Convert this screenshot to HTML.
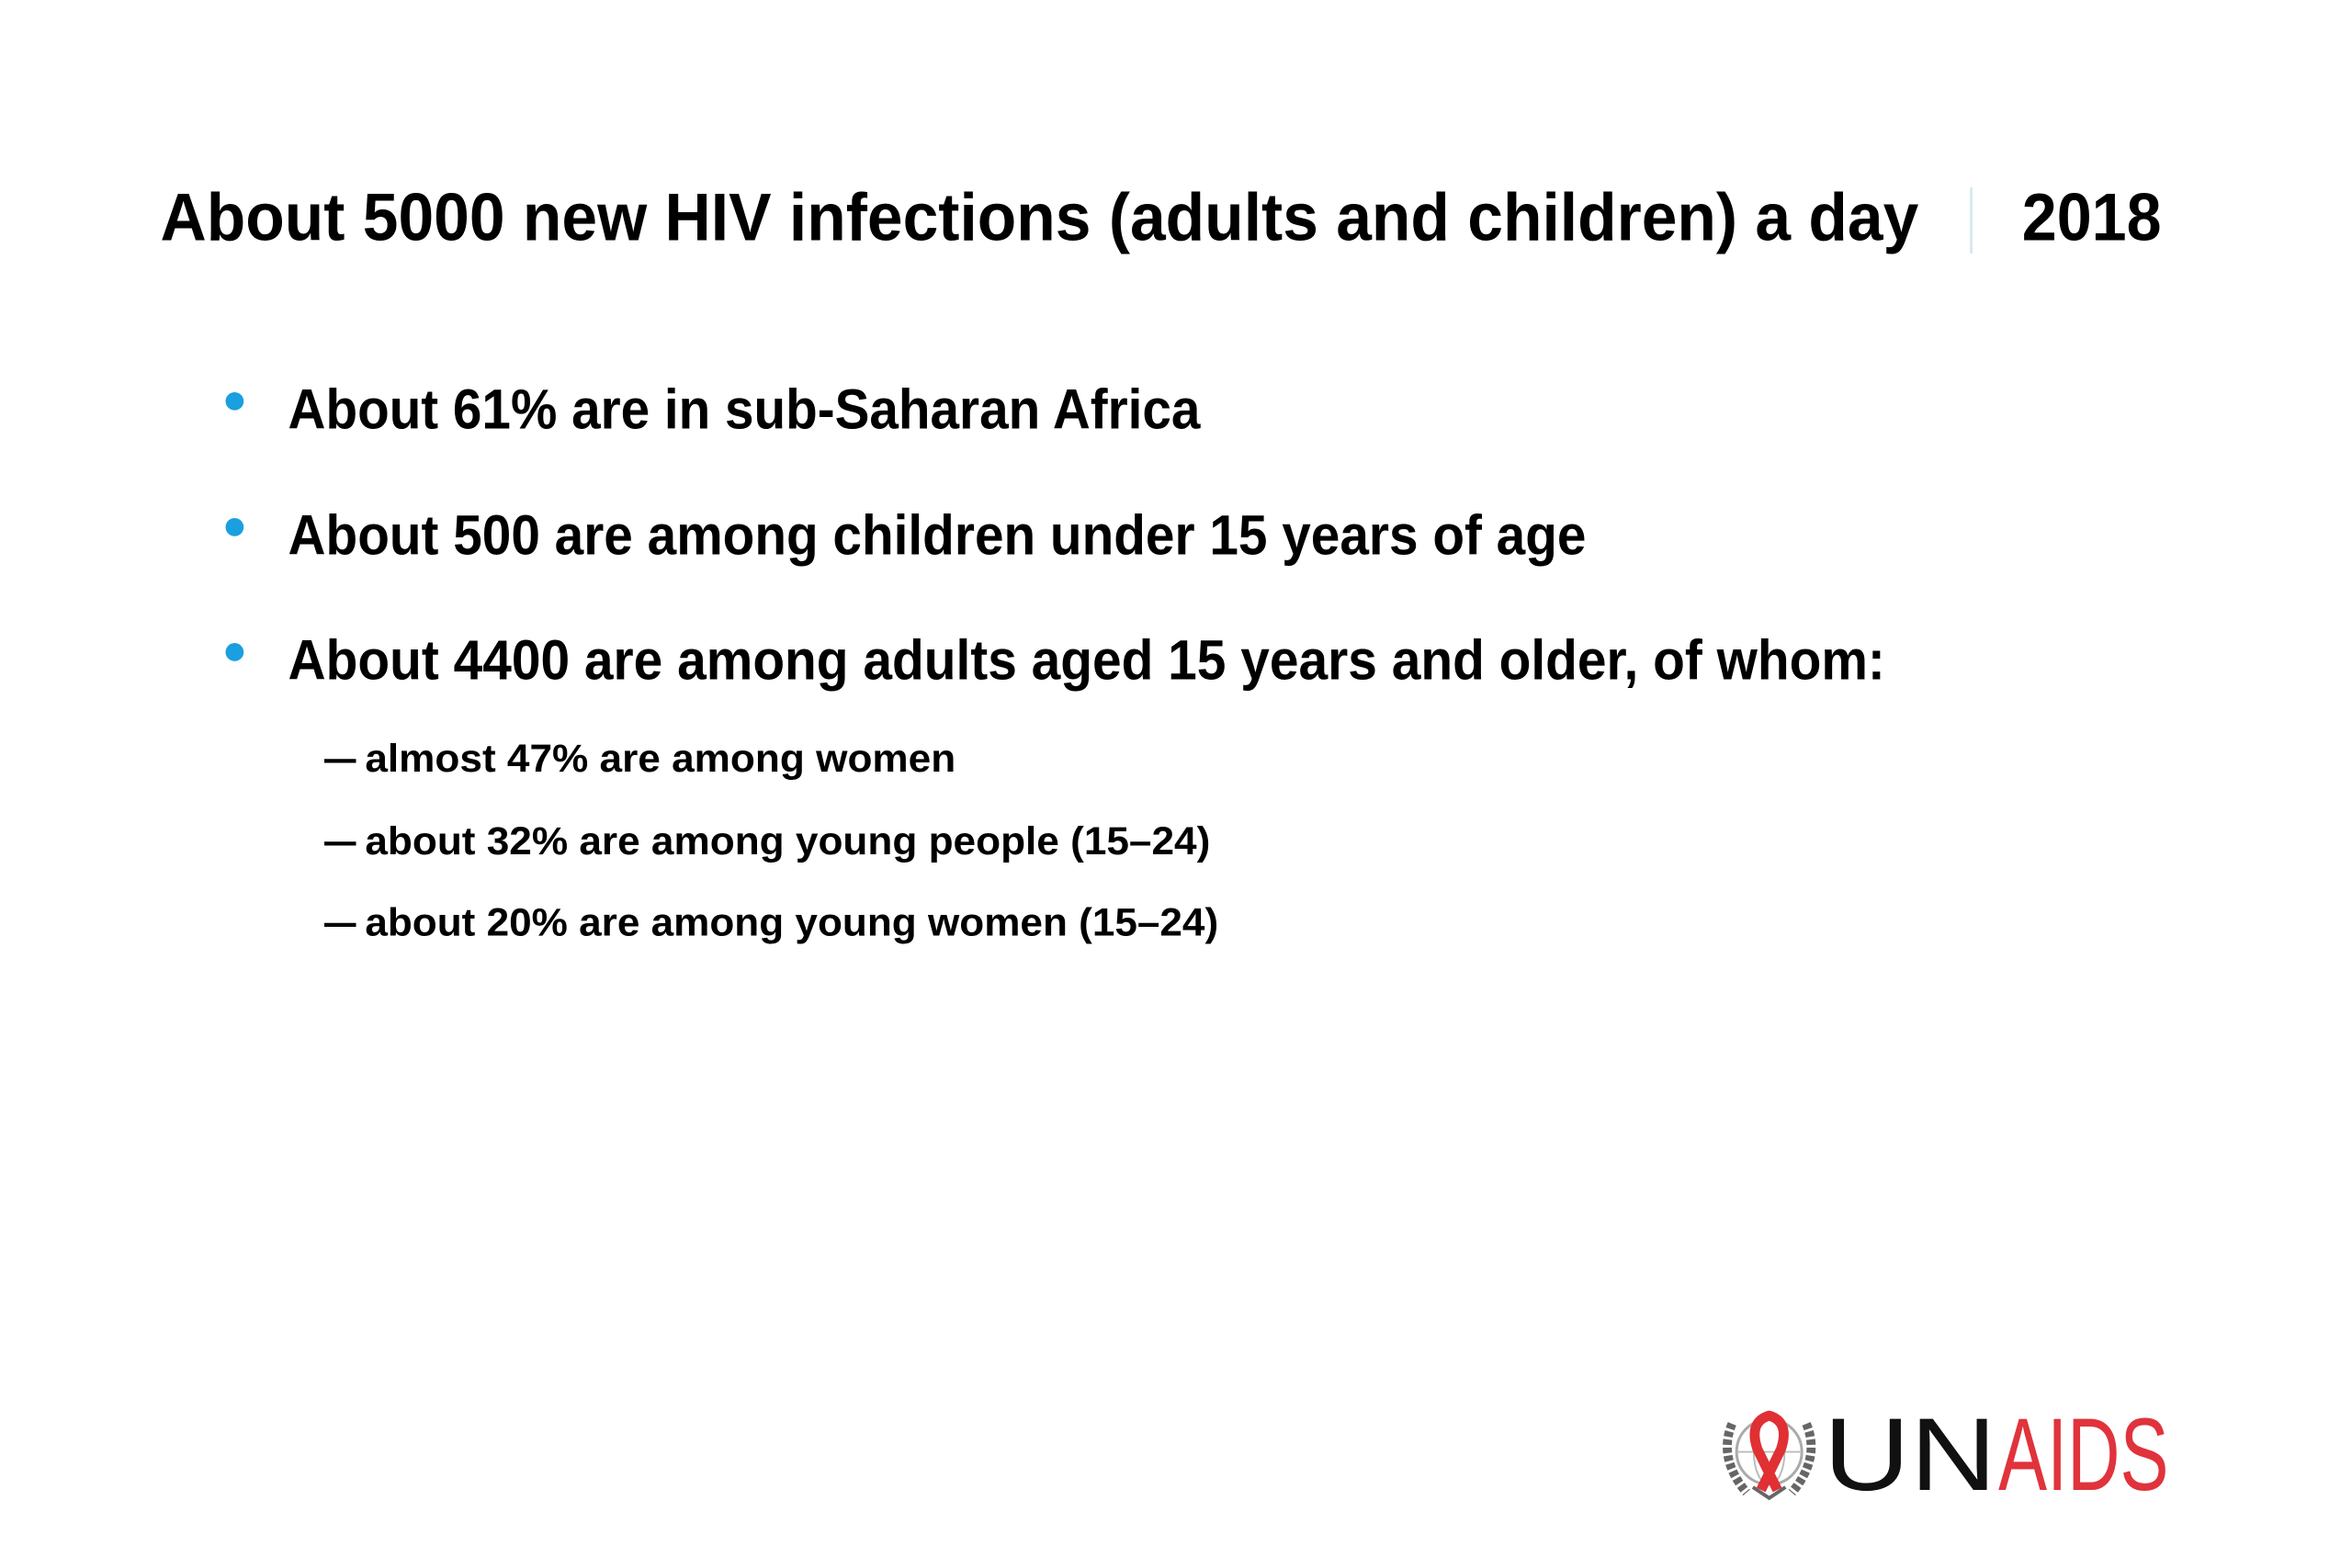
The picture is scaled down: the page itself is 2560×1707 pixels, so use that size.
<!DOCTYPE html>
<html><head><meta charset="utf-8"><style>html,body{margin:0;padding:0;background:#fff}svg{display:block}</style></head>
<body>
<svg width="2560" height="1707" viewBox="0 0 2560 1707" xmlns="http://www.w3.org/2000/svg" font-family="'Liberation Sans', Arial, sans-serif">
<rect width="2560" height="1707" fill="#fff"/>
<g transform="scale(0.986)">
<text x="177" y="265" font-size="74" font-weight="bold" fill="#000" textLength="1941" lengthAdjust="spacingAndGlyphs">About 5000 new HIV infections (adults and children) a day</text>
<line x1="2176" y1="207" x2="2176" y2="280" stroke="#d8e8f4" stroke-width="3"/>
<text x="2232" y="265" font-size="74" font-weight="bold" fill="#000" textLength="154" lengthAdjust="spacingAndGlyphs">2018</text>

<circle cx="259" cy="443" r="10" fill="#1a9fe0"/>
<text x="318" y="473" font-size="62" font-weight="bold" fill="#000" textLength="1007" lengthAdjust="spacingAndGlyphs">About 61% are in sub-Saharan Africa</text>
<circle cx="259" cy="582" r="10" fill="#1a9fe0"/>
<text x="318" y="612" font-size="62" font-weight="bold" fill="#000" textLength="1433" lengthAdjust="spacingAndGlyphs">About 500 are among children under 15 years of age</text>
<circle cx="259" cy="720" r="10" fill="#1a9fe0"/>
<text x="318" y="750" font-size="62" font-weight="bold" fill="#000" textLength="1763" lengthAdjust="spacingAndGlyphs">About 4400 are among adults aged 15 years and older, of whom:</text>

<g font-size="43" font-weight="bold" fill="#000">
<text x="358" y="852" textLength="35" lengthAdjust="spacingAndGlyphs">—</text>
<text x="403" y="852" textLength="652" lengthAdjust="spacingAndGlyphs">almost 47% are among women</text>
<text x="358" y="943" textLength="35" lengthAdjust="spacingAndGlyphs">—</text>
<text x="403" y="943" textLength="933" lengthAdjust="spacingAndGlyphs">about 32% are among young people (15–24)</text>
<text x="358" y="1033" textLength="35" lengthAdjust="spacingAndGlyphs">—</text>
<text x="403" y="1033" textLength="942" lengthAdjust="spacingAndGlyphs">about 20% are among young women (15–24)</text>
</g>

<g>
<g>
<circle cx="1953" cy="1603" r="36" fill="none" stroke="#aaa" stroke-width="3"/>
<ellipse cx="1953" cy="1603" rx="17" ry="36" fill="none" stroke="#bbb" stroke-width="2"/>
<line x1="1917" y1="1603" x2="1989" y2="1603" stroke="#bbb" stroke-width="2"/>
<path d="M1912 1572 Q1896 1610 1928 1648" fill="none" stroke="#666" stroke-width="10" stroke-dasharray="6 3"/>
<path d="M1994 1572 Q2010 1610 1978 1648" fill="none" stroke="#666" stroke-width="10" stroke-dasharray="6 3"/>
<path d="M1935 1642 L1953 1654 L1971 1642" fill="none" stroke="#666" stroke-width="4"/>
<path d="M1962 1645 L1940 1600 Q1930 1570 1953 1563 Q1976 1570 1966 1600 L1944 1645" fill="none" stroke="#e03033" stroke-width="11" stroke-linejoin="round"/>
</g>
<text x="2013" y="1645" font-size="114" fill="#111" textLength="191" lengthAdjust="spacingAndGlyphs">UN</text>
<text x="2206" y="1645" font-size="114" fill="#e0333c" textLength="188" lengthAdjust="spacingAndGlyphs">AIDS</text>
</g>
</g>
</svg>
</body></html>
